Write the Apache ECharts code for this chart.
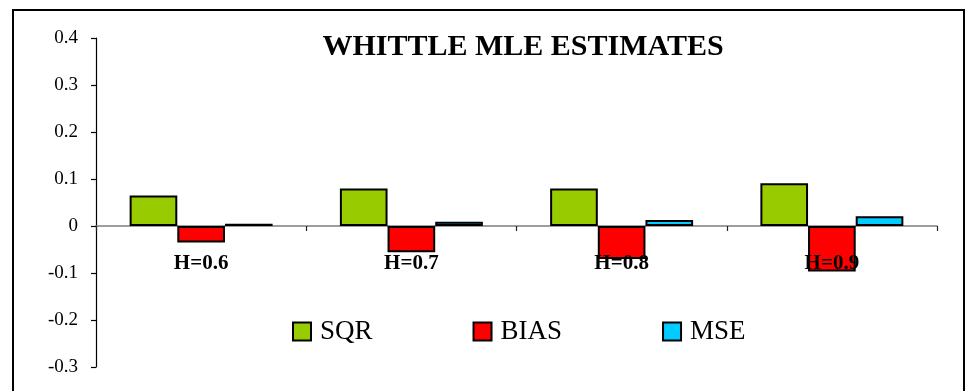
<!DOCTYPE html>
<html>
<head>
<meta charset="utf-8">
<script src="https://cdn.jsdelivr.net/npm/echarts@6/dist/echarts.min.js"></script>
<style>
  html, body { margin: 0; padding: 0; background: #fff; }
  #chart { width: 972px; height: 391px; }
</style>
</head>
<body>
<div id="chart"></div>
<script>
// Hurst parameter settings along the category axis
const categories = ['H=0.6', 'H=0.7', 'H=0.8', 'H=0.9'];

// Whittle MLE summary statistics per setting
const sqrValues  = [0.065, 0.080, 0.080, 0.091];
const biasValues = [-0.035, -0.056, -0.070, -0.097];
const mseValues  = [0.005, 0.009, 0.013, 0.021];

const serif = '"Liberation Serif", "Times New Roman", serif';

const chart = echarts.init(document.getElementById('chart'), null, { renderer: 'canvas' });

const barBorder = { borderColor: '#000', borderWidth: 2 };

chart.setOption({
  backgroundColor: '#fff',
  animation: false,
  title: {
    text: 'WHITTLE MLE ESTIMATES',
    left: 518,
    top: 27,
    textAlign: 'center',
    textStyle: { fontFamily: serif, fontSize: 30, fontWeight: 'bold', color: '#000' }
  },
  legend: {
    left: 287,
    top: 313,
    icon: 'rect',
    itemWidth: 18,
    itemHeight: 18,
    itemGap: 100,
    itemStyle: { borderColor: '#000', borderWidth: 2 },
    textStyle: { fontFamily: serif, fontSize: 27, color: '#000', padding: [0, 0, 0, 4] },
    data: ['SQR', 'BIAS', 'MSE']
  },
  grid: { left: 96, right: 35, top: 38, bottom: 24, containLabel: false, outerBoundsMode: 'none' },
  xAxis: [
    {
      // zero line with category boundary ticks, drawn beneath the bars
      type: 'category',
      data: categories,
      axisLine: { onZero: true, lineStyle: { color: '#7f7f7f', width: 1.5 } },
      axisTick: { show: true, inside: false, length: 5, lineStyle: { color: '#222', width: 1.2 } },
      axisLabel: { show: false },
      z: 0
    },
    {
      // category labels, lifted to the zero line and drawn above the bars
      type: 'category',
      data: categories,
      position: 'bottom',
      offset: -141,
      axisLine: { show: false, onZero: false },
      axisTick: { show: false },
      axisLabel: {
        show: true,
        margin: 27,
        fontFamily: serif,
        fontSize: 21,
        fontWeight: 'bold',
        color: '#000'
      },
      z: 10
    }
  ],
  yAxis: {
    type: 'value',
    min: -0.3,
    max: 0.4,
    interval: 0.1,
    splitLine: { show: false },
    axisLine: { show: true, onZero: false, lineStyle: { color: '#000', width: 1.2 } },
    axisTick: { show: true, inside: false, length: 5, lineStyle: { color: '#000', width: 1.2 } },
    axisLabel: {
      margin: 18,
      fontFamily: serif,
      fontSize: 19,
      color: '#000',
      formatter: v => String(Math.round(v * 10) / 10)
    }
  },
  series: [
    {
      name: 'SQR', type: 'bar', data: sqrValues, xAxisIndex: 0,
      barGap: '0%', barCategoryGap: '32%',
      itemStyle: Object.assign({ color: '#99CC00' }, barBorder)
    },
    {
      name: 'BIAS', type: 'bar', data: biasValues, xAxisIndex: 0,
      barGap: '0%', barCategoryGap: '32%',
      itemStyle: Object.assign({ color: '#FF0000' }, barBorder)
    },
    {
      name: 'MSE', type: 'bar', data: mseValues, xAxisIndex: 0,
      barGap: '0%', barCategoryGap: '32%',
      itemStyle: Object.assign({ color: '#00CCFF' }, barBorder)
    }
  ],
  graphic: [
    {
      type: 'rect',
      shape: { x: 13, y: 10, width: 951, height: 400 },
      style: { fill: null, stroke: '#000', lineWidth: 2 },
      silent: true,
      z: 100
    }
  ]
});
</script>
</body>
</html>
